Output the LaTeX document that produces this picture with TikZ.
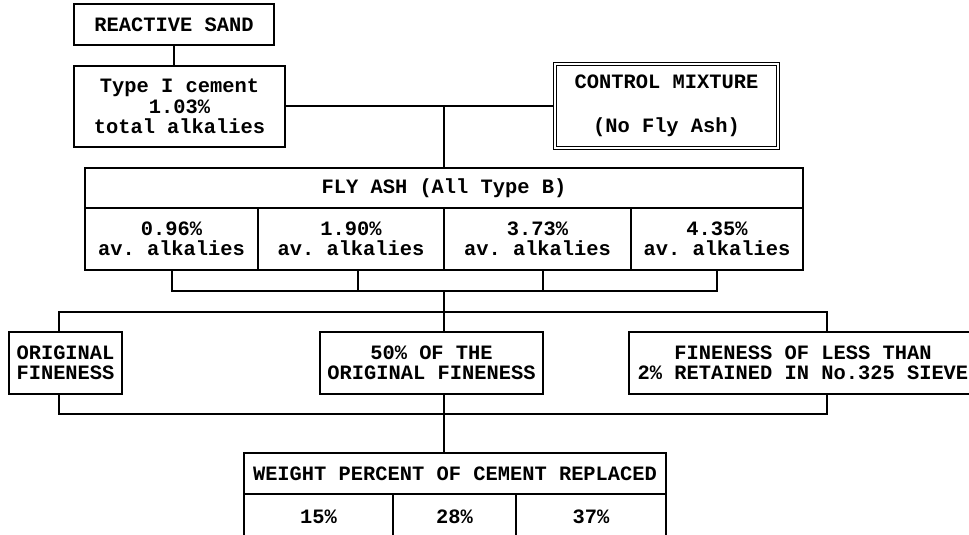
\documentclass[tikz,border=0pt]{standalone}
\usepackage{fontspec}
\setmonofont{Liberation Mono}
\usetikzlibrary{calc}
\tikzset{
    cell/.style={draw, line width=1pt, align=center, inner sep=0pt,
        font=\ttfamily\bfseries\fontsize{10.2}{10.2}\selectfont},
    ctrlcell/.style={cell, double, line width=0.6pt, double distance=1pt},
    wire/.style={line width=1pt}
}

\begin{document}
\begin{tikzpicture}[x=0.5pt, y=-0.5pt]
    \useasboundingbox (0,0) rectangle (969,535);

    % 1. Sand, cement and control mixture
    \node[cell, minimum width=100pt, minimum height=20.5pt] (sand) at (174,24.5) {REACTIVE SAND};
    \node[cell, minimum width=105.5pt, minimum height=40.5pt] (cement) at (179.5,106.5) {Type I cement\\1.03\%\\total alkalies};
    \node[ctrlcell, minimum width=111.5pt, minimum height=42pt] (control) at (666.5,106) {CONTROL MIXTURE\\[11.8pt](No Fly Ash)};

    % 2. Fly ash table
    \node[cell, minimum width=359pt, minimum height=20pt] (flyash) at (444,188) {FLY ASH (All Type B)};
    \node[cell, minimum width=86.5pt, minimum height=31pt] (ash1) at (171.5,239) {0.96\%\\av. alkalies};
    \node[cell, minimum width=93pt, minimum height=31pt] (ash2) at (351,239) {1.90\%\\av. alkalies};
    \node[cell, minimum width=93.5pt, minimum height=31pt] (ash3) at (537.5,239) {3.73\%\\av. alkalies};
    \node[cell, minimum width=86pt, minimum height=31pt] (ash4) at (717,239) {4.35\%\\av. alkalies};

    % 3. Fineness
    \node[cell, minimum width=56.5pt, minimum height=31pt] (orig) at (65.5,363) {ORIGINAL\\FINENESS};
    \node[cell, minimum width=111.5pt, minimum height=31pt] (half) at (431.5,363) {50\% OF THE\\ORIGINAL FINENESS};
    \node[cell, minimum width=174pt, minimum height=31pt] (sieve) at (803,363) {FINENESS OF LESS THAN\\2\% RETAINED IN No.325 SIEVE};

    % 4. Cement replacement table (runs off the bottom edge)
    \node[cell, minimum width=211pt, minimum height=20.5pt] (weight) at (455,473.5) {WEIGHT PERCENT OF CEMENT REPLACED};
    \node[cell, minimum width=74.5pt, minimum height=23pt] (rep1) at (318.5,517) {15\%};
    \node[cell, minimum width=61.5pt, minimum height=23pt] (rep2) at (454.5,517) {28\%};
    \node[cell, minimum width=75pt, minimum height=23pt] (rep3) at (591,517) {37\%};

    % ==========================================
    % Connectors
    % ==========================================
    \draw[wire] (sand.south) -- (sand.south |- cement.north);
    \draw[wire] (cement.east) -- (cement.east -| control.west);
    \coordinate (join) at (flyash.north |- cement.east);
    \draw[wire] (join) -- (flyash.north);

    % bus under the fly ash cells
    \coordinate (bus1) at (444,291);
    \draw[wire] (ash1.south) |- (ash4.south |- bus1) -- (ash4.south);
    \draw[wire] ([xshift=3.5pt]ash2.south) -- ([xshift=3.5pt]ash2.south |- bus1);
    \draw[wire] ([xshift=2.75pt]ash3.south) -- ([xshift=2.75pt]ash3.south |- bus1);
    \draw[wire] (bus1) -- (bus1 |- half.north);

    % brackets round the fineness row
    \coordinate (fbl) at (59,312);
    \coordinate (fbr) at (827,312);
    \draw[wire] (fbl |- orig.north) -- (fbl) -- (fbr) -- (fbr |- sieve.north);
    \coordinate (gbl) at (59,414);
    \coordinate (gbr) at (827,414);
    \draw[wire] (gbl |- orig.south) -- (gbl) -- (gbr) -- (gbr |- sieve.south);
    \draw[wire] (half.south -| bus1) -- (weight.north -| bus1);

\end{tikzpicture}
\end{document}
